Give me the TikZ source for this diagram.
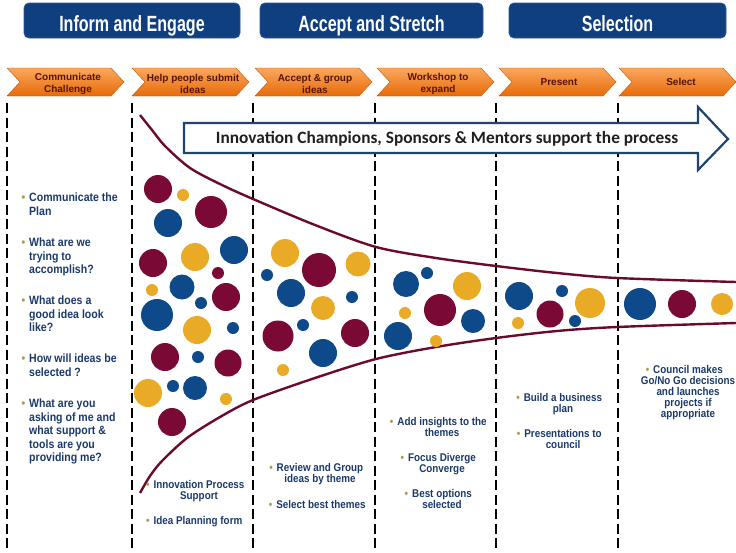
\documentclass[tikz,border=0pt]{standalone}
\usepackage{fontspec}
\setmainfont{Liberation Sans}
\newfontfamily\headfont[FakeStretch=0.73]{Liberation Sans}
\newfontfamily\notefont[FakeStretch=0.88]{Liberation Sans}
\newfontfamily\bannerfont{Carlito}
\usepackage{xcolor}
\usetikzlibrary{calc}

\definecolor{hdblue}{HTML}{0F3F7E}
\definecolor{hdedge}{HTML}{2A5A9A}
\definecolor{orngA}{HTML}{FBA75E}
\definecolor{orngB}{HTML}{E66A08}
\definecolor{chevtxt}{HTML}{5A1405}
\definecolor{berry}{HTML}{7A0A35}
\definecolor{navy}{HTML}{0E4A8A}
\definecolor{gold}{HTML}{E9AB25}
\definecolor{notetxt}{HTML}{1B3A6B}
\definecolor{bulletc}{HTML}{A39E52}
\definecolor{funnel}{HTML}{6A0B2D}
\definecolor{arrowc}{HTML}{1F4472}

\newcommand{\bul}{\llap{\textcolor{bulletc}{\textbullet}\hspace{4pt}}}

\begin{document}
\begin{tikzpicture}[x=1pt, y=-1pt,
    hdbox/.style={rounded corners=5pt, fill=hdblue, draw=hdedge, line width=0.8pt,
        text=white, font=\headfont\bfseries\fontsize{22}{24}\selectfont, minimum height=35pt,
        text height=22pt, text depth=1pt},
    chev/.style={top color=orngA, bottom color=orngB, draw=orngB!85!black, line width=0.4pt},
    chevtext/.style={text=chevtxt, align=center, inner sep=0pt,
        font=\bfseries\fontsize{10}{11.5}\selectfont},
    lane/.style={dash pattern=on 10pt off 4.5pt, line width=1.4pt},
    rim/.style={draw=funnel, line width=2.4pt},
    note/.style={text=notetxt, align=center, inner sep=0pt, anchor=north,
        font=\notefont\bfseries\fontsize{11.2}{11}\selectfont},
    ask/.style={text=notetxt, align=left, inner sep=0pt, anchor=north west,
        font=\notefont\bfseries\fontsize{12}{13.5}\selectfont}]
    \fill[white] (0,0) rectangle (736,552);
    \useasboundingbox (0,0) rectangle (736,552);

    % stage headers
    \node[hdbox, minimum width=216pt](hd1) at (132, 20.5) {Inform and Engage};
    \node[hdbox, minimum width=223pt](hd2) at (371.5, 20.5) {Accept and Stretch};
    \node[hdbox, minimum width=217pt](hd3) at (617.5, 20.5) {Selection};

    % steps
    \path[chev] (7,68) -- ++(104,0) -- ++(13,14) -- ++(-13,14) -- ++(-104,0) -- ++(13,-14) -- cycle;
    \path[chev] (132,68) -- ++(104,0) -- ++(13,14) -- ++(-13,14) -- ++(-104,0) -- ++(13,-14) -- cycle;
    \path[chev] (255,68) -- ++(104,0) -- ++(13,14) -- ++(-13,14) -- ++(-104,0) -- ++(13,-14) -- cycle;
    \path[chev] (377,68) -- ++(104,0) -- ++(13,14) -- ++(-13,14) -- ++(-104,0) -- ++(13,-14) -- cycle;
    \path[chev] (499,68) -- ++(104,0) -- ++(13,14) -- ++(-13,14) -- ++(-104,0) -- ++(13,-14) -- cycle;
    \path[chev] (619,68) -- ++(104,0) -- ++(13,14) -- ++(-13,14) -- ++(-104,0) -- ++(13,-14) -- cycle;

    \node[chevtext](ch1) at (68, 84) {Communicate\\Challenge};
    \node[chevtext](ch2) at (193, 84) {Help people submit\\ideas};
    \node[chevtext](ch3) at (315, 84) {Accept \& group\\ideas};
    \node[chevtext](ch4) at (438, 84) {Workshop to\\expand};
    \node[chevtext](ch5) at (559, 82) {Present};
    \node[chevtext](ch6) at (681, 82) {Select};

    % lanes
    \draw[lane] (7,103) -- (7,552);
    \draw[lane] (132,103) -- (132,552);
    \draw[lane] (253,103) -- (253,552);
    \draw[lane] (375,103) -- (375,552);
    \draw[lane] (496,103) -- (496,552);
    \draw[lane] (618,103) -- (618,552);

    % funnel
    \draw[rim] plot[smooth, tension=0.5] coordinates {(140,115) (152,130) (165,146) (190,168)
        (222,185) (253,199) (315,225) (376,247) (436,258) (496,266) (557,273) (617,278) (736,282)};
    \draw[rim] plot[smooth, tension=0.5] coordinates {(140,493) (150,476) (162,461) (187,438)
        (220,417) (253,400) (315,378) (376,359) (436,347) (496,338) (557,331) (617,327) (736,323)};

    % ideas
    \fill[berry] (158,189) circle (14pt) (211,212) circle (16pt) (153,263) circle (14pt)
        (218,273) circle (6pt) (226,297) circle (14pt) (165,357) circle (14pt)
        (228,363) circle (13.5pt) (172,422) circle (14pt) (319,270) circle (17pt)
        (278,336) circle (15.5pt) (355,333) circle (14pt) (440,310) circle (16pt)
        (550,314) circle (13.5pt) (682,304) circle (14pt);
    \fill[navy] (168,223) circle (14pt) (234,250) circle (14pt) (182,287) circle (12.5pt)
        (201,303) circle (6pt) (157,315) circle (16pt) (233,328) circle (6pt)
        (198,357) circle (6pt) (173,386) circle (6pt) (195,388) circle (12pt)
        (267,275) circle (6pt) (291,293) circle (14pt) (352,297) circle (6pt)
        (303,325) circle (6pt) (323,353) circle (14pt) (406,284) circle (13pt)
        (427,273) circle (6pt) (473,321) circle (12pt) (398,336) circle (14pt)
        (519,296) circle (14pt) (562,291) circle (6pt) (575,321) circle (6pt)
        (640,304) circle (16pt);
    \fill[gold] (183,195) circle (6pt) (195,257) circle (14pt) (152,290) circle (6pt)
        (197,330) circle (14pt) (148,393) circle (14pt) (226,399) circle (6pt)
        (285,253) circle (14pt) (358,264) circle (12.5pt) (323,308) circle (12pt)
        (283,370) circle (6pt) (467,286) circle (14pt) (405,313) circle (6pt)
        (436,341) circle (6pt) (590,303) circle (15pt) (518,323) circle (6pt)
        (722,304) circle (11pt);

    % support arrow
    \draw[draw=arrowc, line width=2.2pt, fill=white, line join=miter]
        (184,123) -- (698,123) -- (698,107) -- (728,139) -- (698,170) -- (698,153) -- (184,153) -- cycle;
    \node[text=black!88, font=\bannerfont\bfseries\fontsize{17.3}{19}\selectfont](banner) at (447, 139)
        {Innovation Champions, Sponsors \& Mentors support the process};

    % questions
    \node[ask](q1) at (29, 193) {\bul Communicate the\\Plan};
    \node[ask](q2) at (29, 238) {\bul What are we\\trying to\\accomplish?};
    \node[ask](q3) at (29, 296) {\bul What does a\\good idea look\\like?};
    \node[ask](q4) at (29, 354) {\bul How will ideas be\\selected ?};
    \node[ask](q5) at (29, 399) {\bul What are you\\asking of me and\\what support \&\\tools are you\\providing me?};

    % outputs
    \node[note](n21) at (199, 480) {\bul Innovation Process\\Support};
    \node[note](n22) at (198, 516) {\bul Idea Planning form};
    \node[note](n31) at (320, 463) {\bul Review and Group\\ideas by theme};
    \node[note](n32) at (321, 500) {\bul Select best themes};
    \node[note](n41) at (442, 417) {\bul Add insights to the\\themes};
    \node[note](n42) at (442, 453) {\bul Focus Diverge\\Converge};
    \node[note](n43) at (442, 489) {\bul Best options\\selected};
    \node[note](n51) at (563, 393) {\bul Build a business\\plan};
    \node[note](n52) at (563, 429) {\bul Presentations to\\council};
    \node[note](n61) at (688, 365) {\bul Council makes\\Go/No Go decisions\\and launches\\projects if\\appropriate};
\end{tikzpicture}
\end{document}
